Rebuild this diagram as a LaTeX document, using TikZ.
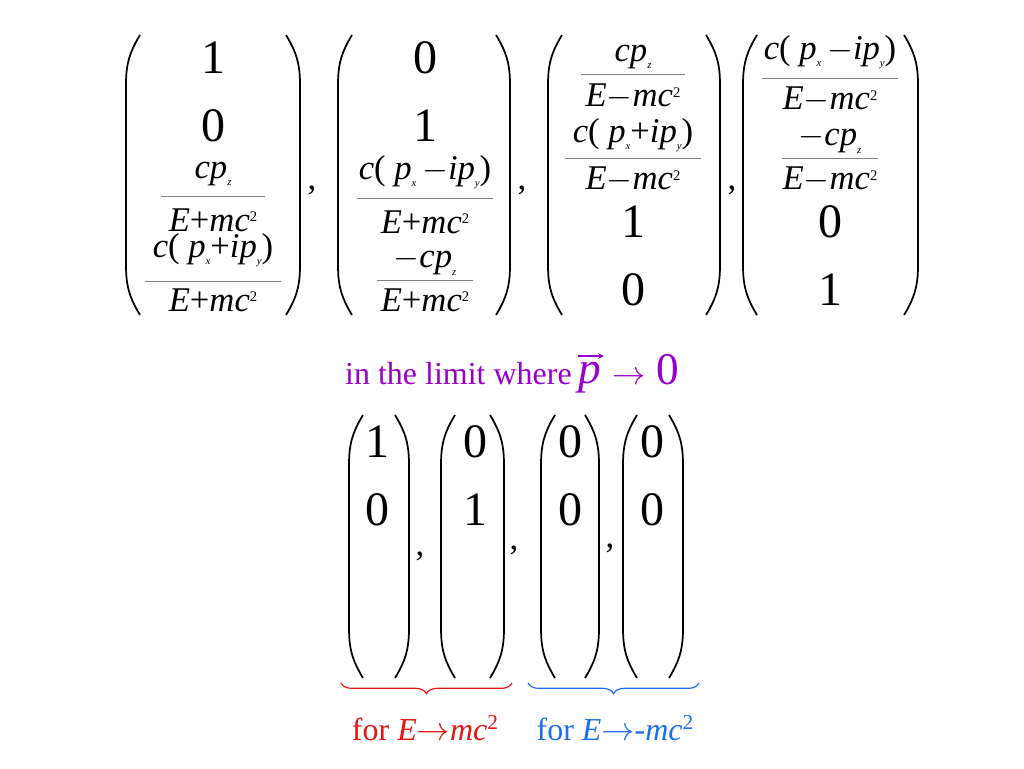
\documentclass[tikz,border=0pt]{standalone}
\usepackage{fontspec}
\setmainfont{Liberation Serif}
\usetikzlibrary{decorations.pathreplacing}
\definecolor{purp}{RGB}{153,0,204}
\definecolor{bred}{RGB}{230,20,20}
\definecolor{bblue}{RGB}{30,110,240}
\newcommand{\LP}[3]{\draw[paren] (#1+14,#2) .. controls (#1+3,#2+18) and (#1,#2+30) .. (#1,#2+50) -- (#1,#3-50) .. controls (#1,#3-30) and (#1+3,#3-18) .. (#1+14,#3);}
\newcommand{\RP}[3]{\draw[paren] (#1-14,#2) .. controls (#1-3,#2+18) and (#1,#2+30) .. (#1,#2+50) -- (#1,#3-50) .. controls (#1,#3-30) and (#1-3,#3-18) .. (#1-14,#3);}
\newcommand{\FR}[8]{\node[fr] (#1n) at (#2,#3) {#6};\node[fr] (#1d) at (#2,#5) {#7};
 \coordinate (#1a) at (#2-#8,#4);\coordinate (#1b) at (#2+#8,#4);\draw[fline] (#1a) -- (#1b);}
\newcommand{\sbx}[1]{\raisebox{-0.45ex}{\fontsize{8}{9}\selectfont\itshape #1}}
\newcommand{\Em}[1]{\textit{E}#1\textit{mc}\raisebox{0.6ex}{\fontsize{11}{12}\selectfont 2}}
\begin{document}
\begin{tikzpicture}[x=0.75pt,y=-0.75pt,
 paren/.style={line width=1.3pt},
 fr/.style={font=\fontsize{26}{28}\selectfont, inner sep=0pt},
 big/.style={font=\fontsize{36}{40}\selectfont, inner sep=0pt},
 fline/.style={line width=0.5pt, draw=gray}]
\useasboundingbox (0,0) rectangle (1024,768);
% top vectors
\LP{126}{35}{315}\RP{300}{35}{315}
\LP{338}{35}{315}\RP{510}{35}{315}
\LP{548}{35}{315}\RP{720}{35}{315}
\LP{743}{35}{315}\RP{918}{35}{315}
\node[fr] (c1) at (312,190) {,};
\node[fr] (c2) at (522,190) {,};
\node[fr] (c3) at (732,190) {,};
% vec1
\node[big] (a1) at (213,58) {1};
\node[big] (a2) at (213,126) {0};
\FR{a3}{213}{174}{196}{220}{\textit{cp}\sbx{z}}{\Em{+}}{52}
\FR{a4}{213}{250}{281}{300}{\textit{c}( \textit{p}\sbx{x}+\textit{ip}\sbx{y})}{\Em{+}}{68}
% vec2
\node[big] (b1) at (425,58) {0};
\node[big] (b2) at (425,126) {1};
\FR{b3}{425}{172}{198}{222}{\textit{c}( \textit{p}\sbx{x}\,$-$\textit{ip}\sbx{y})}{\Em{+}}{68}
\FR{b4}{425}{262}{280}{300}{$-$\textit{cp}\sbx{z}}{\Em{+}}{48}
% vec3
\FR{d1}{633}{57}{74}{97}{\textit{cp}\sbx{z}}{\Em{$-$}}{52}
\FR{d2}{633}{135}{158}{180}{\textit{c}( \textit{p}\sbx{x}+\textit{ip}\sbx{y})}{\Em{$-$}}{68}
\node[big] (d3) at (633,222) {1};
\node[big] (d4) at (633,290) {0};
% vec4
\FR{e1}{830}{52}{78}{100}{\textit{c}( \textit{p}\sbx{x}\,$-$\textit{ip}\sbx{y})}{\Em{$-$}}{68}
\FR{e2}{830}{140}{158}{180}{$-$\textit{cp}\sbx{z}}{\Em{$-$}}{48}
\node[big] (e3) at (830,222) {0};
\node[big] (e4) at (830,290) {1};
% limit text
\node[text=purp, font=\fontsize{24}{26}\selectfont, inner sep=0pt, anchor=east] (lim) at (572,374) {in the limit where};
\node[text=purp, font=\fontsize{34}{36}\selectfont\itshape, inner sep=0pt] (pv) at (590,378) {p};
\coordinate (pva) at (578,356);\coordinate (pvb) at (604,356);
\draw[purp, line width=1pt, -stealth] (pva) -- (pvb);
\node[text=purp, font=\fontsize{34}{36}\selectfont, inner sep=0pt, anchor=west] (arr) at (612,370) {$\rightarrow$ 0};
% bottom vectors
\LP{349}{415}{678}\RP{409}{415}{678}
\LP{441}{415}{678}\RP{504}{415}{678}
\LP{541}{415}{678}\RP{599}{415}{678}
\LP{623}{415}{678}\RP{683}{415}{678}
\node[fr] (k1) at (420,556) {,};
\node[fr] (k2) at (514,550) {,};
\node[fr] (k3) at (610,548) {,};
\node[big] (f1) at (377,442) {1};\node[big] (f2) at (377,510) {0};
\node[big] (g1) at (475,442) {0};\node[big] (g2) at (475,510) {1};
\node[big] (h1) at (570,442) {0};\node[big] (h2) at (570,510) {0};
\node[big] (i1) at (652,442) {0};\node[big] (i2) at (652,510) {0};
% braces
\coordinate (br1a) at (512,683);\coordinate (br1b) at (341,683);
\coordinate (br2a) at (699,683);\coordinate (br2b) at (528,683);
\draw[bred, line width=0.9pt, decorate, decoration={brace, amplitude=8pt}] (br1a) -- (br1b);
\draw[bblue, line width=0.9pt, decorate, decoration={brace, amplitude=8pt}] (br2a) -- (br2b);
\node[text=bred, font=\fontsize{24}{26}\selectfont, inner sep=0pt] (l1) at (425,728) {for \textit{E}$\rightarrow$\textit{mc}\raisebox{0.7ex}{\fontsize{16}{17}\selectfont 2}};
\node[text=bblue, font=\fontsize{24}{26}\selectfont, inner sep=0pt] (l2) at (615,728) {for \textit{E}$\rightarrow$-\textit{mc}\raisebox{0.7ex}{\fontsize{16}{17}\selectfont 2}};
\end{tikzpicture}
\end{document}
